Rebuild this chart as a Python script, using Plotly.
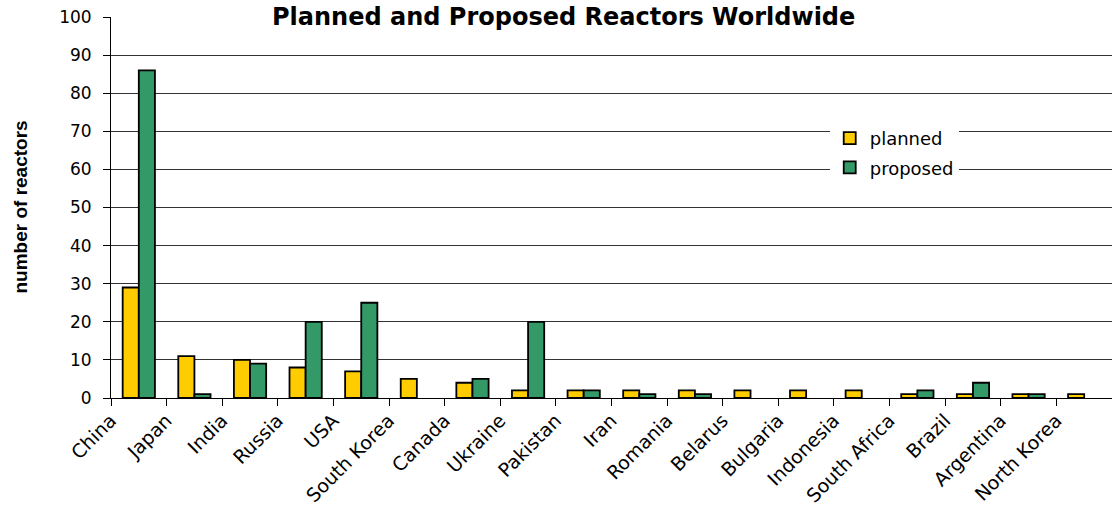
import plotly.graph_objects as go

countries = ["China", "Japan", "India", "Russia", "USA", "South Korea", "Canada",
             "Ukraine", "Pakistan", "Iran", "Romania", "Belarus", "Bulgaria",
             "Indonesia", "South Africa", "Brazil", "Argentina", "North Korea"]
planned = [29, 11, 10, 8, 7, 5, 4, 2, 2, 2, 2, 2, 2, 2, 1, 1, 1, 1]
proposed = [86, 1, 9, 20, 25, 0, 5, 20, 2, 1, 1, 0, 0, 0, 2, 4, 1, 0]
y_ticks = list(range(0, 101, 10))

FONT = "DejaVu Sans, Arial, sans-serif"


def nz(values):
    # zero-height bars are not drawn in the original chart
    return [v if v else None for v in values]


fig = go.Figure()
fig.add_trace(go.Bar(x=countries, y=nz(planned), name="planned", legendgroup="a",
                     marker=dict(color="#FFCC00", line=dict(color="black", width=1.8))))
fig.add_trace(go.Bar(x=countries, y=nz(proposed), name="proposed", legendgroup="b",
                     marker=dict(color="#339966", line=dict(color="black", width=1.8))))

fig.update_layout(
    width=1112, height=510,
    margin=dict(l=111, r=0, t=17, b=112, pad=0),
    paper_bgcolor="white", plot_bgcolor="white",
    barmode="group", bargap=0.42, bargroupgap=0,
    font=dict(family=FONT, color="black", size=16),
    legend=dict(x=0.718, y=0.73, xanchor="left", yanchor="top",
                bgcolor="white", borderwidth=0, font=dict(size=18, family=FONT),
                tracegroupgap=3),
    xaxis=dict(
        type="category", range=[-0.5, 17.5], showgrid=False,
        showline=True, linecolor="black", linewidth=1,
        ticks="outside", ticklen=7, tickcolor="black", tickson="boundaries",
        tickangle=-45, tickfont=dict(size=19, family=FONT),
        ticklabelshift=-28, ticklabelstandoff=3, automargin=False,
    ),
    yaxis=dict(
        range=[0, 100], tickvals=y_ticks, showgrid=True, gridcolor="#333333", gridwidth=1,
        showline=True, linecolor="black", linewidth=1,
        ticks="outside", ticklen=7, tickcolor="black",
        tickfont=dict(size=17, family=FONT), ticklabelstandoff=8,
        zeroline=False, automargin=False,
    ),
)

fig.add_annotation(
    text="<b>number of reactors</b>",
    xref="paper", yref="paper", x=-0.0909, y=0.5, xanchor="center", yanchor="middle",
    textangle=-90, showarrow=False,
    font=dict(size=19, family="Arial, Liberation Sans", color="black"),
)

fig.add_annotation(
    text="<b>Planned and Proposed Reactors Worldwide</b>",
    xref="paper", yref="paper", x=0.4516, y=1.0, xanchor="center", yanchor="middle",
    showarrow=False, bgcolor="white", borderpad=5,
    font=dict(size=24, family=FONT, color="black"),
)

fig.write_html("out.html")
